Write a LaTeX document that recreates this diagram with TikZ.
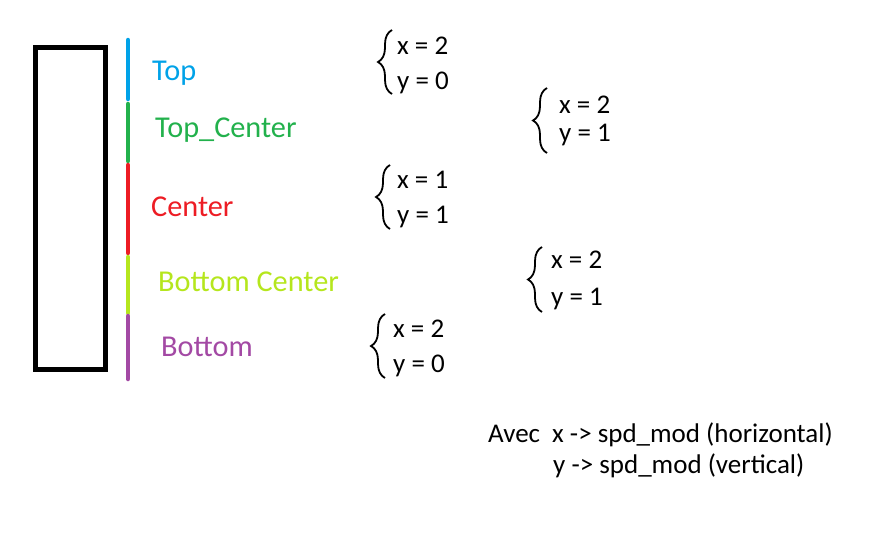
\documentclass[tikz,border=0pt]{standalone}
\usepackage{fontspec}
\setmainfont{Carlito}
\usetikzlibrary{decorations.pathreplacing}
\definecolor{paintBlue}{HTML}{00A2E8}
\definecolor{paintGreen}{HTML}{22B14C}
\definecolor{paintRed}{HTML}{ED1C24}
\definecolor{paintLime}{HTML}{B5E61D}
\definecolor{paintPurple}{HTML}{A349A4}
\begin{document}
\begin{tikzpicture}[
    x=1pt, y=-1pt,
    part bar/.style={line width=4.5pt, line cap=round},
    part label/.style={anchor=base west, inner sep=0pt, font=\fontsize{30.3}{34}\selectfont},
    eq text/.style={anchor=base west, inner sep=0pt, font=\fontsize{27}{32}\selectfont},
    curly/.style={draw, line width=1.8pt, decorate, decoration={brace, amplitude=14pt}},
    ]
\useasboundingbox (0,0) rectangle (881,549);
\draw[line width=5pt] (35.5,47.5) rectangle (105,369.5);
\draw[part bar, paintBlue] (128,40) -- (128,99);
\draw[part bar, paintGreen] (128,104) -- (128,161);
\draw[part bar, paintRed] (128,165) -- (128,253);
\draw[part bar, paintLime] (128,257) -- (128,313);
\draw[part bar, paintPurple] (128,316) -- (128,379);
\node[part label, paintBlue] (top) at (152,80) {Top};
\node[part label, paintGreen] (topCenter) at (155,137) {Top\_Center};
\node[part label, paintRed] (center) at (151,216) {Center};
\node[part label, paintLime] (bottomCenter) at (158,291) {Bottom Center};
\node[part label, paintPurple] (bottom) at (161,356) {Bottom};
% speeds
\node[eq text] (xTop) at (397,54) {x = 2};
\node[eq text] (yTop) at (397,89) {y = 0};
\draw[curly] (392,94) -- (392,30);
\node[eq text] (xTopCenter) at (559,113) {x = 2};
\node[eq text] (yTopCenter) at (559,141) {y = 1};
\draw[curly] (547,153) -- (547,88);
\node[eq text] (xCenter) at (397,188) {x = 1};
\node[eq text] (yCenter) at (397,223) {y = 1};
\draw[curly] (390,229) -- (390,165);
\node[eq text] (xBottomCenter) at (551,268) {x = 2};
\node[eq text] (yBottomCenter) at (551,305) {y = 1};
\draw[curly] (542,312) -- (542,247);
\node[eq text] (xBottom) at (393,337) {x = 2};
\node[eq text] (yBottom) at (393,372) {y = 0};
\draw[curly] (385,378) -- (385,314);
% legend
\node[eq text] (avec) at (488,442) {Avec};
\node[eq text] (xDef) at (552,442) {x -> spd\_mod (horizontal)};
\node[eq text] (yDef) at (553,473) {y -> spd\_mod (vertical)};
\end{tikzpicture}
\end{document}
